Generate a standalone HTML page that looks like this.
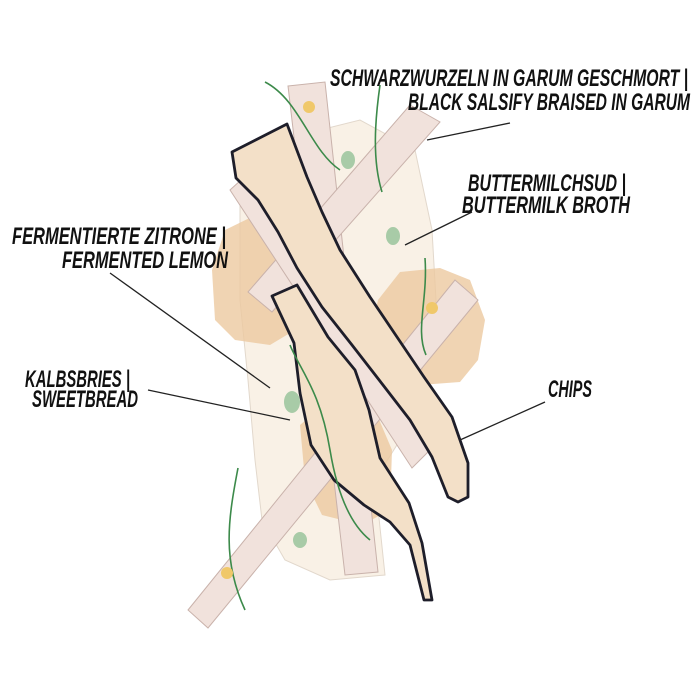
<!DOCTYPE html>
<html><head><meta charset="utf-8"><style>
html,body{margin:0;padding:0;background:#fff;}
svg{display:block}
text{font-family:"Liberation Sans Narrow","Liberation Sans",sans-serif;font-weight:bold;font-style:italic;fill:#111;}
</style></head><body>
<svg width="700" height="700" viewBox="0 0 700 700" xmlns="http://www.w3.org/2000/svg">
<path d="M240,175 L300,135 L360,120 L415,150 L432,230 L436,300 L420,380 L400,440 L375,480 L385,575 L330,580 L285,560 L262,520 L255,460 L248,380 L240,300 Z" fill="#f9f1e6" stroke="#e2d8cc" stroke-width="1"/>
<path d="M225,230 L262,212 L290,225 L300,280 L295,330 L270,345 L235,340 L215,320 L212,270 Z" fill="#ecc9a0" opacity="0.8"/>
<path d="M378,300 L400,272 L440,268 L470,280 L485,320 L478,360 L460,382 L420,385 L385,370 L370,335 Z" fill="#ecc9a0" opacity="0.8"/>
<path d="M300,425 L330,400 L375,410 L392,450 L390,510 L362,525 L322,515 L305,480 Z" fill="#ecc9a0" opacity="0.8"/>
<g fill="#f1e2dc" stroke="#c9b2ab" stroke-width="1">
<polygon points="288,86 325,82 378,572 345,575"/>
<polygon points="410,105 440,122 272,312 248,292"/>
<polygon points="455,280 478,300 208,628 188,610"/>
<polygon points="230,190 252,170 432,448 412,468"/>
</g>
<path d="M232,152 L287,124 L307,177 L322,212 L340,250 L370,297 L397,337 L424,377 L452,417 L468,463 L468,497 L458,502 L448,497 L432,457 L410,420 L383,385 L352,345 L322,307 L297,268 L278,232 L258,200 L236,178 Z" fill="#f3e0c8" stroke="#1e1e2a" stroke-width="2.8" stroke-linejoin="round"/>
<path d="M272,296 L297,285 L328,337 L355,370 L369,410 L380,458 L409,503 L422,543 L432,600 L424,600 L410,545 L390,522 L364,505 L334,480 L311,445 L300,393 L294,343 Z" fill="#f3e0c8" stroke="#1e1e2a" stroke-width="2.8" stroke-linejoin="round"/>
<g fill="none" stroke="#3c8a4a" stroke-width="1.6">
<path d="M265,82 C300,100 310,150 340,170"/>
<path d="M380,85 C375,120 372,160 382,192"/>
<path d="M425,258 C428,300 415,330 426,355"/>
<path d="M290,345 C300,370 320,390 330,450 C335,480 345,520 370,540"/>
<path d="M238,468 C228,520 222,560 245,610"/>
</g>
<g fill="#9fc7a0" opacity="0.9">
<ellipse cx="348" cy="160" rx="7" ry="9"/>
<ellipse cx="393" cy="236" rx="7" ry="9"/>
<ellipse cx="292" cy="402" rx="8" ry="11"/>
<ellipse cx="300" cy="540" rx="7" ry="8"/>
</g>
<g fill="#f0c86a"><circle cx="309" cy="107" r="6"/><circle cx="432" cy="308" r="6"/><circle cx="227" cy="573" r="6"/></g>
<g stroke="#222" stroke-width="1.3">
<line x1="427" y1="140" x2="510" y2="123"/>
<line x1="405" y1="245" x2="472" y2="212"/>
<line x1="110" y1="273" x2="270" y2="388"/>
<line x1="148" y1="390" x2="290" y2="420"/>
<line x1="460" y1="440" x2="545" y2="402"/>
</g>
<text x="330" y="86" font-size="24" textLength="358" lengthAdjust="spacingAndGlyphs">SCHWARZWURZELN IN GARUM GESCHMORT |</text>
<text x="408" y="110" font-size="24" textLength="282" lengthAdjust="spacingAndGlyphs">BLACK SALSIFY BRAISED IN GARUM</text>
<text x="468" y="191" font-size="24" textLength="158" lengthAdjust="spacingAndGlyphs">BUTTERMILCHSUD |</text>
<text x="462" y="213" font-size="24" textLength="168" lengthAdjust="spacingAndGlyphs">BUTTERMILK BROTH</text>
<text x="12" y="244" font-size="24" textLength="214" lengthAdjust="spacingAndGlyphs">FERMENTIERTE ZITRONE |</text>
<text x="62" y="268" font-size="24" textLength="166" lengthAdjust="spacingAndGlyphs">FERMENTED LEMON</text>
<text x="25" y="387" font-size="24" textLength="105" lengthAdjust="spacingAndGlyphs">KALBSBRIES |</text>
<text x="32" y="407" font-size="24" textLength="106" lengthAdjust="spacingAndGlyphs">SWEETBREAD</text>
<text x="548" y="397" font-size="24" textLength="44" lengthAdjust="spacingAndGlyphs">CHIPS</text>
</svg>
</body></html>
